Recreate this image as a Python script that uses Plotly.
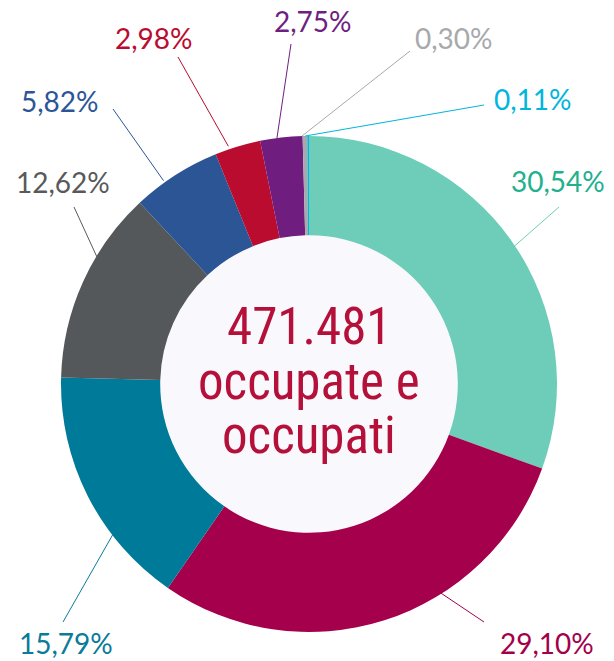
import math
import plotly.graph_objects as go

# ---- data ----
categories = ["A", "B", "C", "D", "E", "F", "G", "H", "I"]
values = [30.54, 29.10, 15.79, 12.62, 5.82, 2.98, 2.75, 0.30, 0.11]
value_labels = ["30,54%", "29,10%", "15,79%", "12,62%", "5,82%", "2,98%", "2,75%", "0,30%", "0,11%"]
center_lines = ["471.481", "occupate e", "occupati"]

# ---- style ----
slice_colors = ["#6dcdb8", "#a5004b", "#007a99", "#55585a", "#2c5596",
                "#b90c2f", "#6f1e80", "#a7a9ac", "#00b8de"]
label_colors = ["#22b08e", "#a3004c", "#0b7b99", "#58595b", "#2b5596",
                "#ba0c2f", "#6e1f80", "#a7a9ac", "#00b6de"]
line_colors = ["#6dcdb8", "#a3004c", "#0b7b99", "#58595b", "#2b5596",
               "#ba0c2f", "#6e1f80", "#a7a9ac", "#00b6de"]

W, H = 614, 661
CX, CY, R = 309, 384, 248
HOLE = 0.6

# label anchor (pixel) and outer end of leader line (pixel)
label_pos = [(558, 181), (547, 643), (66, 643), (63, 182), (60, 101),
             (154, 38), (313, 21), (454, 38), (533, 99)]
leader_outer = [(559, 207), (484, 622), (63, 622), (74, 207), (113, 109),
                (178, 57), (291, 44), (410, 51), (484, 105)]
leader_shift = [1.5, -13, -9, 6.5, -3, -2, -1, -0.7, -0.7]   # degrees
leader_r = [237, 233, 232, 246, 250, 251, 248, 248, 248]


def px(x):
    return x / W


def py(y):
    return 1 - y / H


fig = go.Figure()
fig.add_trace(go.Pie(
    labels=categories, values=values, sort=False, direction="clockwise",
    rotation=0, hole=HOLE, textinfo="none", hoverinfo="skip",
    marker=dict(colors=slice_colors, line=dict(width=0)),
    domain=dict(x=[px(CX - R), px(CX + R)], y=[py(CY + R), py(CY - R)]),
    showlegend=False,
))

shapes = []
# center fill
ri = R * HOLE + 2
shapes.append(dict(type="circle", xref="paper", yref="paper",
                   x0=px(CX - ri), x1=px(CX + ri), y0=py(CY + ri), y1=py(CY - ri),
                   fillcolor="#f9f8fd", line=dict(width=0), layer="below"))

total = sum(values)
cum = 0
annotations = []
for i, v in enumerate(values):
    mid = (cum + v / 2) / total * 360 + leader_shift[i]
    cum += v
    a = math.radians(mid)
    x_in = CX + leader_r[i] * math.sin(a)
    y_in = CY - leader_r[i] * math.cos(a)
    xo, yo = leader_outer[i]
    shapes.append(dict(type="line", xref="paper", yref="paper",
                       x0=px(x_in), y0=py(y_in), x1=px(xo), y1=py(yo),
                       line=dict(color=line_colors[i], width=1), layer="above"))
    lx, ly = label_pos[i]
    annotations.append(dict(text=value_labels[i], x=px(lx), y=py(ly), xref="paper", yref="paper",
                            showarrow=False, xanchor="center", yanchor="middle",
                            font=dict(family="Lato, sans-serif", size=28, color=label_colors[i])))

center_y = [327, 381, 435]
for t, yy in zip(center_lines, center_y):
    annotations.append(dict(text=t, x=px(CX), y=py(yy), xref="paper", yref="paper",
                            showarrow=False, xanchor="center", yanchor="middle",
                            font=dict(family="Liberation Sans Narrow, Roboto Condensed, Roboto, sans-serif",
                                      size=51, color="#b5103a")))

fig.update_layout(width=W, height=H, margin=dict(l=0, r=0, t=0, b=0),
                  paper_bgcolor="white", plot_bgcolor="white",
                  shapes=shapes, annotations=annotations)

fig.write_html("out.html", config={"displayModeBar": False},
               post_script="document.body.style.margin='0';")
